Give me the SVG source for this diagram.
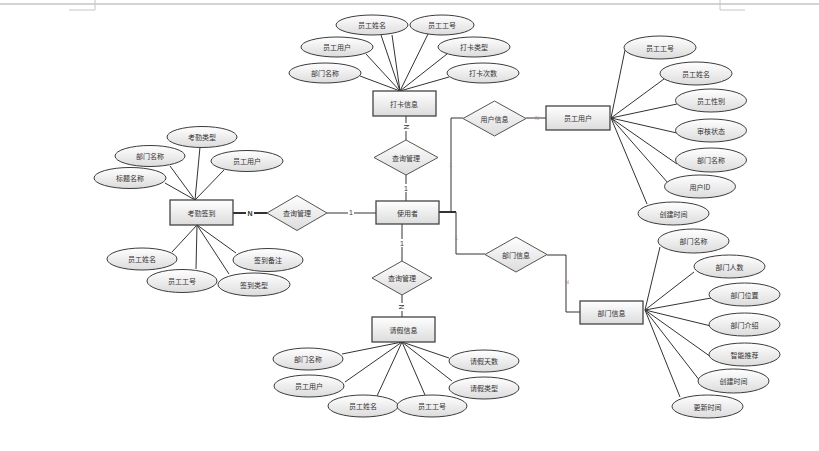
<svg xmlns="http://www.w3.org/2000/svg" width="819" height="451" viewBox="0 0 819 451">
<defs>
<linearGradient id="g" x1="0" y1="0" x2="0" y2="1">
<stop offset="0" stop-color="#ffffff"/>
<stop offset="1" stop-color="#dcdcdc"/>
</linearGradient>
<style>
.e{fill:url(#g);stroke:#3c3c3c;stroke-width:1}
.r{fill:url(#g);stroke:#444;stroke-width:1.3}
.d{fill:url(#g);stroke:#555;stroke-width:1}
.t{font-family:"Noto Sans CJK SC","Liberation Sans",sans-serif;font-size:7px;fill:#333;text-anchor:middle;dominant-baseline:central}
.l{stroke:#333;stroke-width:1;fill:none}
.k{stroke:#333;stroke-width:2;fill:none}
.m{font-family:"Liberation Sans",sans-serif;font-size:7px;fill:#333;text-anchor:middle;dominant-baseline:central}
.s{font-family:"Liberation Sans",sans-serif;font-size:5px;fill:#b77;text-anchor:middle;dominant-baseline:central}
.pg{stroke:#c6c6c6;fill:none}
</style>
</defs>
<rect width="819" height="451" fill="#fff"/>
<g id="page">
<line class="pg" x1="0" y1="4" x2="819" y2="4" stroke-width="1.5"/>
<polyline class="pg" points="95,0 95,10 69,10"/>
<polyline class="pg" points="720,0 720,10 745,10"/>
</g>
<g id="connectors">
<!-- top cluster -->
<line class="l" x1="400" y1="91" x2="360" y2="76"/>
<line class="l" x1="400" y1="91" x2="366" y2="54"/>
<line class="l" x1="400" y1="91" x2="381" y2="35"/>
<line class="l" x1="400" y1="91" x2="392" y2="35"/>
<line class="l" x1="400" y1="91" x2="428" y2="34"/>
<line class="l" x1="400" y1="91" x2="447" y2="54"/>
<line class="l" x1="400" y1="91" x2="449" y2="77"/>
<!-- left cluster -->
<line class="l" x1="195" y1="200" x2="165" y2="183"/>
<line class="l" x1="195" y1="200" x2="170" y2="166"/>
<line class="l" x1="195" y1="200" x2="200" y2="147"/>
<line class="l" x1="195" y1="200" x2="224" y2="170"/>
<line class="l" x1="197" y1="225" x2="172" y2="252"/>
<line class="l" x1="197" y1="225" x2="196" y2="269"/>
<line class="l" x1="197" y1="225" x2="229" y2="274"/>
<line class="l" x1="197" y1="225" x2="236" y2="253"/>
<!-- bottom cluster -->
<line class="l" x1="402" y1="342" x2="342" y2="354"/>
<line class="l" x1="402" y1="342" x2="345" y2="382"/>
<line class="l" x1="402" y1="342" x2="377" y2="396"/>
<line class="l" x1="402" y1="342" x2="425" y2="395"/>
<line class="l" x1="402" y1="342" x2="452" y2="381"/>
<line class="l" x1="402" y1="342" x2="449" y2="358"/>
<!-- right top cluster -->
<line class="l" x1="611" y1="118" x2="625" y2="50"/>
<line class="l" x1="611" y1="118" x2="664" y2="79"/>
<line class="l" x1="611" y1="118" x2="677" y2="104"/>
<line class="l" x1="611" y1="118" x2="677" y2="133"/>
<line class="l" x1="611" y1="118" x2="677" y2="164"/>
<line class="l" x1="611" y1="118" x2="668" y2="183"/>
<line class="l" x1="611" y1="118" x2="647" y2="204"/>
<!-- right bottom cluster -->
<line class="l" x1="645" y1="310" x2="660" y2="247"/>
<line class="l" x1="645" y1="310" x2="694" y2="272"/>
<line class="l" x1="645" y1="310" x2="711" y2="298"/>
<line class="l" x1="645" y1="310" x2="711" y2="326"/>
<line class="l" x1="645" y1="310" x2="711" y2="357"/>
<line class="l" x1="645" y1="310" x2="700" y2="381"/>
<line class="l" x1="645" y1="310" x2="680" y2="397"/>
<!-- relationships -->
<line class="l" x1="406" y1="116" x2="406" y2="140"/>
<line class="l" x1="406" y1="175" x2="406" y2="201"/>
<line class="k" x1="233" y1="213" x2="267" y2="213"/>
<line class="l" x1="327" y1="213" x2="376" y2="213"/>
<line class="l" x1="402" y1="224" x2="402" y2="261"/>
<line class="l" x1="402" y1="295" x2="402" y2="317"/>
<polyline class="k" points="439,212 456,212"/>
<polyline class="l" points="451,212 451,118 463,118" stroke-width="1.4"/>
<polyline class="l" points="456,212 456,254 485,254" stroke-width="1.4"/>
<line class="l" x1="526" y1="118" x2="546" y2="118"/>
<polyline class="l" points="547,255 566,255 566,312 580,312" stroke-width="1.4"/>
<!-- labels -->
<rect x="402" y="123" width="8" height="8" fill="#fff"/>
<text class="m" transform="translate(406,127) rotate(90)">N</text>
<rect x="403" y="184" width="6" height="8" fill="#fff"/>
<text class="m" x="406" y="188">1</text>
<rect x="246" y="209" width="8" height="8" fill="#fff"/>
<text class="m" x="250" y="213" font-weight="bold">N</text>
<rect x="348" y="208" width="6" height="8" fill="#fff"/>
<text class="m" x="351" y="212">1</text>
<rect x="399" y="239" width="6" height="8" fill="#fff"/>
<text class="m" x="402" y="243">1</text>
<rect x="397" y="303" width="8" height="8" fill="#fff"/>
<text class="m" transform="translate(401,307) rotate(90)">N</text>
<text class="s" x="451" y="165">1</text>
<text class="s" x="456.5" y="238">1</text>
<text class="s" x="537" y="118" fill="#7aa">N</text>
<text class="s" x="567" y="282">N</text>
</g>
<!-- 打卡信息 -->
<g id="daka">
<rect class="r" x="373" y="91" width="63" height="25"/>
<text class="t" x="404" y="103.5">打卡信息</text>
</g>
<g id="daka-attrs">
<ellipse class="e" cx="372" cy="25" rx="36" ry="10"/><text class="t" x="372" y="25">员工姓名</text>
<ellipse class="e" cx="442" cy="25" rx="32" ry="10"/><text class="t" x="442" y="25">员工工号</text>
<ellipse class="e" cx="337" cy="47" rx="36" ry="10"/><text class="t" x="337" y="47">员工用户</text>
<ellipse class="e" cx="474" cy="47" rx="36" ry="10"/><text class="t" x="474" y="47">打卡类型</text>
<ellipse class="e" cx="325" cy="73" rx="36" ry="10"/><text class="t" x="325" y="73">部门名称</text>
<ellipse class="e" cx="483" cy="73" rx="36" ry="10"/><text class="t" x="483" y="73">打卡次数</text>
</g>
<g id="rel-top">
<polygon class="d" points="406,140 438,157.5 406,175 374,157.5"/>
<text class="t" x="406" y="157.5">查询管理</text>
</g>
<g id="user">
<rect class="r" x="376" y="201" width="63" height="23"/>
<text class="t" x="407.5" y="212.5">使用者</text>
</g>
<g id="rel-left">
<polygon class="d" points="297,195.5 327,213 297,230.5 267,213"/>
<text class="t" x="297" y="213">查询管理</text>
</g>
<g id="rel-bottom">
<polygon class="d" points="402,261 432,278 402,295 372,278"/>
<text class="t" x="402" y="278">查询管理</text>
</g>
<!-- 考勤签到 -->
<g id="kaoqin">
<rect class="r" x="170" y="200" width="63" height="25"/>
<text class="t" x="201.5" y="212.5">考勤签到</text>
</g>
<g id="kaoqin-attrs">
<ellipse class="e" cx="202" cy="137" rx="35" ry="10.5"/><text class="t" x="202" y="137">考勤类型</text>
<ellipse class="e" cx="150" cy="156" rx="35" ry="10.5"/><text class="t" x="150" y="156">部门名称</text>
<ellipse class="e" cx="247" cy="161" rx="36" ry="10.5"/><text class="t" x="247" y="161">员工用户</text>
<ellipse class="e" cx="130" cy="178" rx="36" ry="10.5"/><text class="t" x="130" y="178">标题名称</text>
<ellipse class="e" cx="142" cy="259" rx="35" ry="11"/><text class="t" x="142" y="259">员工姓名</text>
<ellipse class="e" cx="268" cy="260" rx="35" ry="11.5"/><text class="t" x="268" y="260">签到备注</text>
<ellipse class="e" cx="182" cy="281" rx="35" ry="11.5"/><text class="t" x="182" y="281">员工工号</text>
<ellipse class="e" cx="254" cy="284.5" rx="36" ry="11.5"/><text class="t" x="254" y="284.5">签到类型</text>
</g>
<!-- 请假信息 -->
<g id="qingjia">
<rect class="r" x="372" y="317" width="63" height="25"/>
<text class="t" x="403.5" y="329.5">请假信息</text>
</g>
<g id="qingjia-attrs">
<ellipse class="e" cx="308" cy="359" rx="35" ry="11"/><text class="t" x="308" y="359">部门名称</text>
<ellipse class="e" cx="484" cy="361" rx="35" ry="11"/><text class="t" x="484" y="361">请假天数</text>
<ellipse class="e" cx="309" cy="386" rx="35" ry="11"/><text class="t" x="309" y="386">员工用户</text>
<ellipse class="e" cx="484" cy="388" rx="35" ry="11"/><text class="t" x="484" y="388">请假类型</text>
<ellipse class="e" cx="363" cy="406" rx="35" ry="11"/><text class="t" x="363" y="406">员工姓名</text>
<ellipse class="e" cx="432" cy="406" rx="35" ry="11"/><text class="t" x="432" y="406">员工工号</text>
</g>
<!-- 用户信息 -->
<g id="rel-userinfo">
<polygon class="d" points="494.5,101 526,118.5 494.5,136 463,118.5"/>
<text class="t" x="494.5" y="118.5">用户信息</text>
</g>
<g id="staff">
<rect class="r" x="546" y="106" width="64" height="24"/>
<text class="t" x="578" y="118">员工用户</text>
</g>
<g id="staff-attrs">
<ellipse class="e" cx="660" cy="47.5" rx="36" ry="11.5"/><text class="t" x="660" y="47.5">员工工号</text>
<ellipse class="e" cx="696" cy="73.5" rx="36" ry="11.5"/><text class="t" x="696" y="73.5">员工姓名</text>
<ellipse class="e" cx="711" cy="100.5" rx="35.5" ry="11.5"/><text class="t" x="711" y="100.5">员工性别</text>
<ellipse class="e" cx="711" cy="130.5" rx="35.5" ry="11.5"/><text class="t" x="711" y="130.5">审核状态</text>
<ellipse class="e" cx="711" cy="160" rx="35.5" ry="12"/><text class="t" x="711" y="160">部门名称</text>
<ellipse class="e" cx="700" cy="186.5" rx="35.5" ry="11.5"/><text class="t" x="700" y="186.5">用户ID</text>
<ellipse class="e" cx="673.5" cy="213.5" rx="35.5" ry="11.5"/><text class="t" x="673.5" y="213.5">创建时间</text>
</g>
<!-- 部门信息 -->
<g id="rel-dept">
<polygon class="d" points="516,237 547,254.5 516,272 485,254.5"/>
<text class="t" x="516" y="254.5">部门信息</text>
</g>
<g id="dept">
<rect class="r" x="580" y="301" width="63" height="23"/>
<text class="t" x="611.5" y="312.5">部门信息</text>
</g>
<g id="dept-attrs">
<ellipse class="e" cx="693.5" cy="241" rx="35.5" ry="12"/><text class="t" x="693.5" y="241">部门名称</text>
<ellipse class="e" cx="729.5" cy="266.5" rx="35.5" ry="11.5"/><text class="t" x="729.5" y="266.5">部门人数</text>
<ellipse class="e" cx="744.5" cy="294.5" rx="35.5" ry="11.5"/><text class="t" x="744.5" y="294.5">部门位置</text>
<ellipse class="e" cx="744.5" cy="324.5" rx="35.5" ry="11.5"/><text class="t" x="744.5" y="324.5">部门介绍</text>
<ellipse class="e" cx="744.5" cy="354.5" rx="35.5" ry="11.5"/><text class="t" x="744.5" y="354.5">智能推荐</text>
<ellipse class="e" cx="733.5" cy="381" rx="35.5" ry="12"/><text class="t" x="733.5" y="381">创建时间</text>
<ellipse class="e" cx="707.5" cy="406.5" rx="35.5" ry="11.5"/><text class="t" x="707.5" y="406.5">更新时间</text>
</g>
</svg>
